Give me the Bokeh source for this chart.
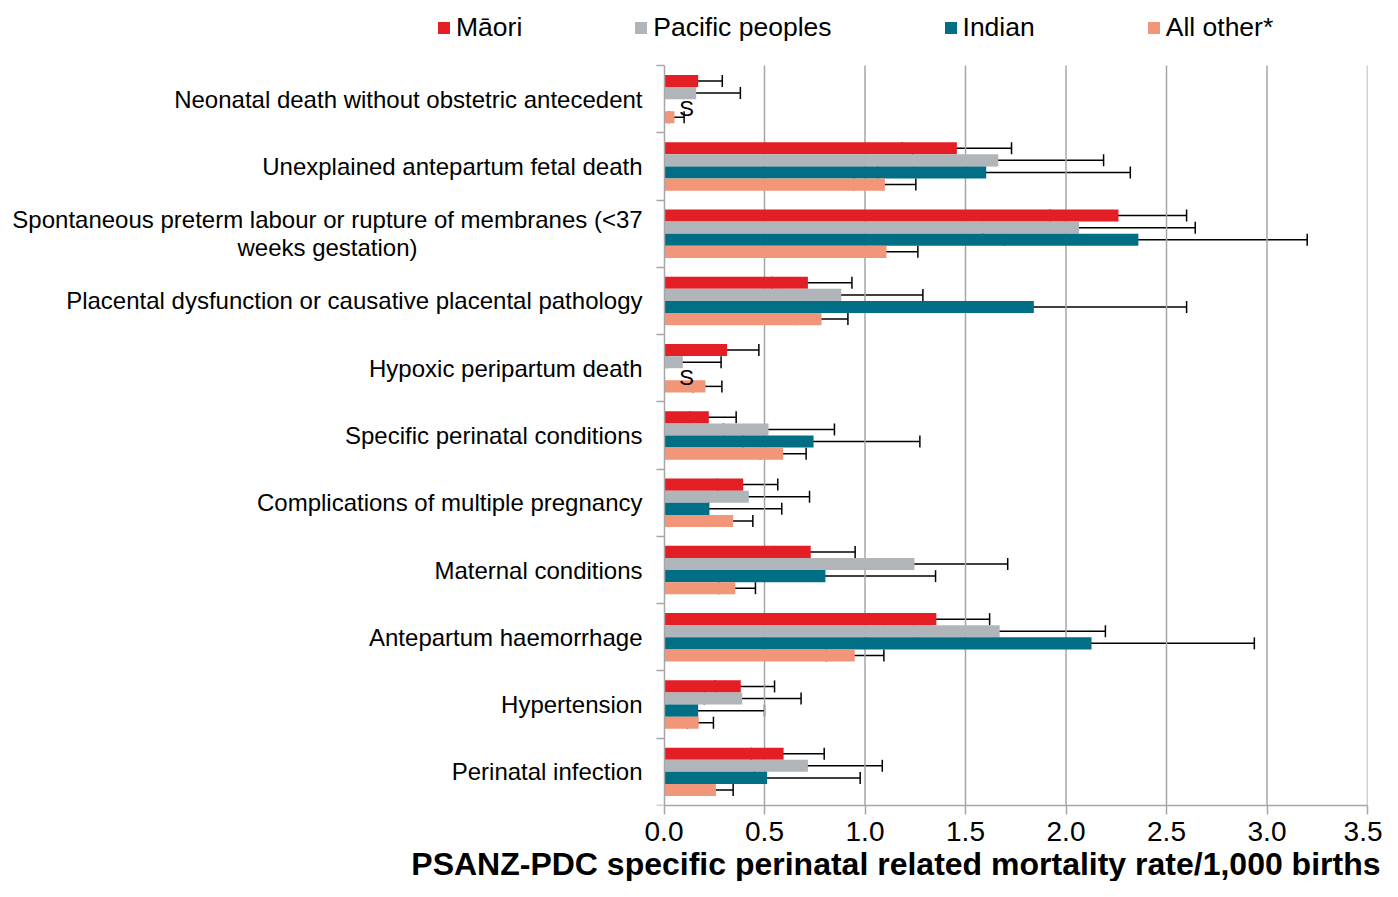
import math
from bokeh.plotting import figure
from bokeh.models import (ColumnDataSource, Range1d, FixedTicker, Whisker, TeeHead,
                          Legend, LegendItem, Title, NumeralTickFormatter)
from bokeh.embed import file_html
from bokeh.resources import INLINE
from bokeh.core.properties import value

FONT = "Liberation Sans"
NaN = float("nan")

categories = [
    "Neonatal death without obstetric antecedent",
    "Unexplained antepartum fetal death",
    "Spontaneous preterm labour or rupture of membranes (<37\nweeks gestation)",
    "Placental dysfunction or causative placental pathology",
    "Hypoxic peripartum death",
    "Specific perinatal conditions",
    "Complications of multiple pregnancy",
    "Maternal conditions",
    "Antepartum haemorrhage",
    "Hypertension",
    "Perinatal infection",
]
series = ["Māori", "Pacific peoples", "Indian", "All other*"]
colors = ["#E31E24", "#B0B5BA", "#006E85", "#F2967A"]

maori = [0.170, 1.457, 2.261, 0.716, 0.314, 0.223, 0.394, 0.730, 1.355, 0.382, 0.595]
maori_lo = [0.089, 1.185, 1.922, 0.538, 0.200, 0.128, 0.266, 0.549, 1.094, 0.255, 0.434]
maori_hi = [0.290, 1.729, 2.600, 0.935, 0.472, 0.359, 0.566, 0.951, 1.620, 0.550, 0.797]

pacific = [0.160, 1.663, 2.065, 0.882, 0.094, 0.520, 0.422, 1.246, 1.670, 0.389, 0.716]
pacific_lo = [0.050, 1.236, 1.587, 0.580, 0.017, 0.296, 0.223, 0.880, 1.243, 0.200, 0.449]
pacific_hi = [0.380, 2.187, 2.643, 1.288, 0.284, 0.848, 0.724, 1.710, 2.196, 0.682, 1.086]

indian = [NaN, 1.603, 2.360, 1.840, NaN, 0.744, 0.226, 0.803, 2.127, 0.170, 0.513]
indian_lo = [NaN, 1.064, 1.694, 1.259, NaN, 0.394, 0.061, 0.438, 1.498, 0.032, 0.233]
indian_hi = [NaN, 2.320, 3.200, 2.600, NaN, 1.273, 0.586, 1.351, 2.937, 0.500, 0.976]

other = [0.052, 1.099, 1.107, 0.784, 0.206, 0.593, 0.344, 0.355, 0.949, 0.173, 0.258]
other_lo = [0.026, 0.944, 0.953, 0.654, 0.145, 0.478, 0.263, 0.273, 0.808, 0.117, 0.188]
other_hi = [0.100, 1.253, 1.263, 0.915, 0.288, 0.707, 0.442, 0.455, 1.094, 0.246, 0.344]

suppressed_label = "S"
x_ticks = [0.0, 0.5, 1.0, 1.5, 2.0, 2.5, 3.0, 3.5]
x_title = "PSANZ-PDC specific perinatal related mortality rate/1,000 births"

vals = [maori, pacific, indian, other]
los = [maori_lo, pacific_lo, indian_lo, other_lo]
his = [maori_hi, pacific_hi, indian_hi, other_hi]
offsets = [-0.27, -0.09, 0.09, 0.27]
bar_h = 0.18
n = len(categories)

# layout geometry (pixels)
W, H = 1382, 881
frame_left, frame_right = 0, 1367
zero_px, frame_top, plot_top, frame_bottom = 663.5, 0, 65, 805
xscale = (frame_right - zero_px) / x_ticks[-1]
band = (frame_bottom - plot_top) / n
x_start = -(zero_px - frame_left) / xscale
y_top = -(plot_top - frame_top) / band

p = figure(width=W, height=H, output_backend="svg", toolbar_location=None,
           x_range=Range1d(x_start, x_ticks[-1]), y_range=Range1d(n, y_top),
           y_axis_location="right",
           min_border_left=frame_left, min_border_right=W - frame_right,
           min_border_top=frame_top, min_border_bottom=0)
p.outline_line_color = None
p.background_fill_color = "white"
p.xgrid.grid_line_color = None
p.ygrid.grid_line_color = None

grey = "#A6A6A6"
# vertical gridlines restricted to the plotting band
gx = x_ticks[1:]
p.segment(x0=gx, x1=gx, y0=[0] * len(gx), y1=[n] * len(gx),
          line_color=grey, line_width=1.5)

renderers = []
for k in range(4):
    ys, vs, lo, hi = [], [], [], []
    for i in range(n):
        if math.isnan(vals[k][i]):
            continue
        ys.append(i + 0.5 + offsets[k])
        vs.append(vals[k][i])
        lo.append(los[k][i])
        hi.append(his[k][i])
    src = ColumnDataSource(dict(y=ys, v=vs, lo=lo, hi=hi))
    r = p.hbar(y="y", left=0, right="v", height=bar_h, source=src,
               fill_color=colors[k], line_color=None)
    renderers.append(r)
    w = Whisker(source=src, base="y", lower="lo", upper="hi", dimension="width",
                line_color="black", line_width=1.5,
                upper_head=TeeHead(size=12, line_color="black", line_width=1.5),
                lower_head=TeeHead(size=12, line_color="black", line_width=1.5))
    p.add_layout(w)

# suppressed markers
s_y = [i + 0.5 + offsets[2] + 0.05 for i in range(n) if math.isnan(indian[i])]
p.text(x=[0.112] * len(s_y), y=s_y, text=[suppressed_label] * len(s_y),
       text_font=value(FONT), text_font_size="22px", text_align="center",
       text_baseline="middle", text_color="black")

# category labels
single = [(c, i + 0.5) for i, c in enumerate(categories) if "\n" not in c]
multi = [(c, i + 0.5) for i, c in enumerate(categories) if "\n" in c]
p.text(x=[-21.5 / xscale] * len(single), y=[y for _, y in single],
       text=[c for c, _ in single], text_font=value(FONT), text_font_size="24px",
       text_align="right", text_baseline="middle", text_color="black")
p.text(x=[-(zero_px - 327) / xscale] * len(multi), y=[y for _, y in multi],
       text=[c for c, _ in multi], text_font=value(FONT), text_font_size="24px",
       text_align="center", text_baseline="middle", text_color="black",
       text_line_height=1.04)

# x axis
p.xaxis.ticker = FixedTicker(ticks=x_ticks)
p.xaxis.bounds = (x_ticks[0], x_ticks[-1])
p.xaxis.formatter = NumeralTickFormatter(format="0.0")
p.xaxis.axis_line_color = grey
p.xaxis.axis_line_width = 1.5
p.xaxis.major_tick_line_color = grey
p.xaxis.major_tick_line_width = 1.5
p.xaxis.major_tick_out = 9
p.xaxis.major_tick_in = 0
p.xaxis.minor_tick_line_color = None
p.xaxis.major_label_text_font = FONT
p.xaxis.major_label_text_font_size = "28px"
p.xaxis.major_label_text_color = "black"
p.xaxis.major_label_standoff = 7

# y axis: category boundaries drawn at x = 0, ticks pointing left
bounds = [float(i) for i in range(n + 1)]
p.yaxis.fixed_location = 0
p.yaxis.bounds = (0, n)
p.yaxis.ticker = FixedTicker(ticks=[], minor_ticks=bounds)
p.yaxis.axis_line_color = grey
p.yaxis.axis_line_width = 1.5
p.yaxis.major_tick_line_color = None
p.yaxis.major_tick_in = 0
p.yaxis.major_tick_out = 0
p.yaxis.minor_tick_line_color = grey
p.yaxis.minor_tick_line_width = 1.5
p.yaxis.minor_tick_out = 0
p.yaxis.minor_tick_in = 8
p.yaxis.major_label_text_font_size = "0px"
p.yaxis.major_label_standoff = 0

p.add_layout(Title(text=x_title, align="right", offset=-13, text_font=FONT,
                   text_font_size="32px", text_font_style="bold",
                   text_color="black", standoff=0), "below")

legend_h = 30
legend = Legend(items=[LegendItem(label=s, renderers=[r]) for s, r in zip(series, renderers)],
                orientation="horizontal",
                location=(436 - frame_left, frame_bottom - 28 - legend_h / 2),
                glyph_width=15, glyph_height=15, label_standoff=5, spacing=111,
                padding=0, margin=0, border_line_color=None, background_fill_alpha=0,
                label_text_font=FONT, label_text_font_size="26.5px",
                label_text_color="black")
p.add_layout(legend)

open("out.html", "w").write(file_html(p, INLINE))
